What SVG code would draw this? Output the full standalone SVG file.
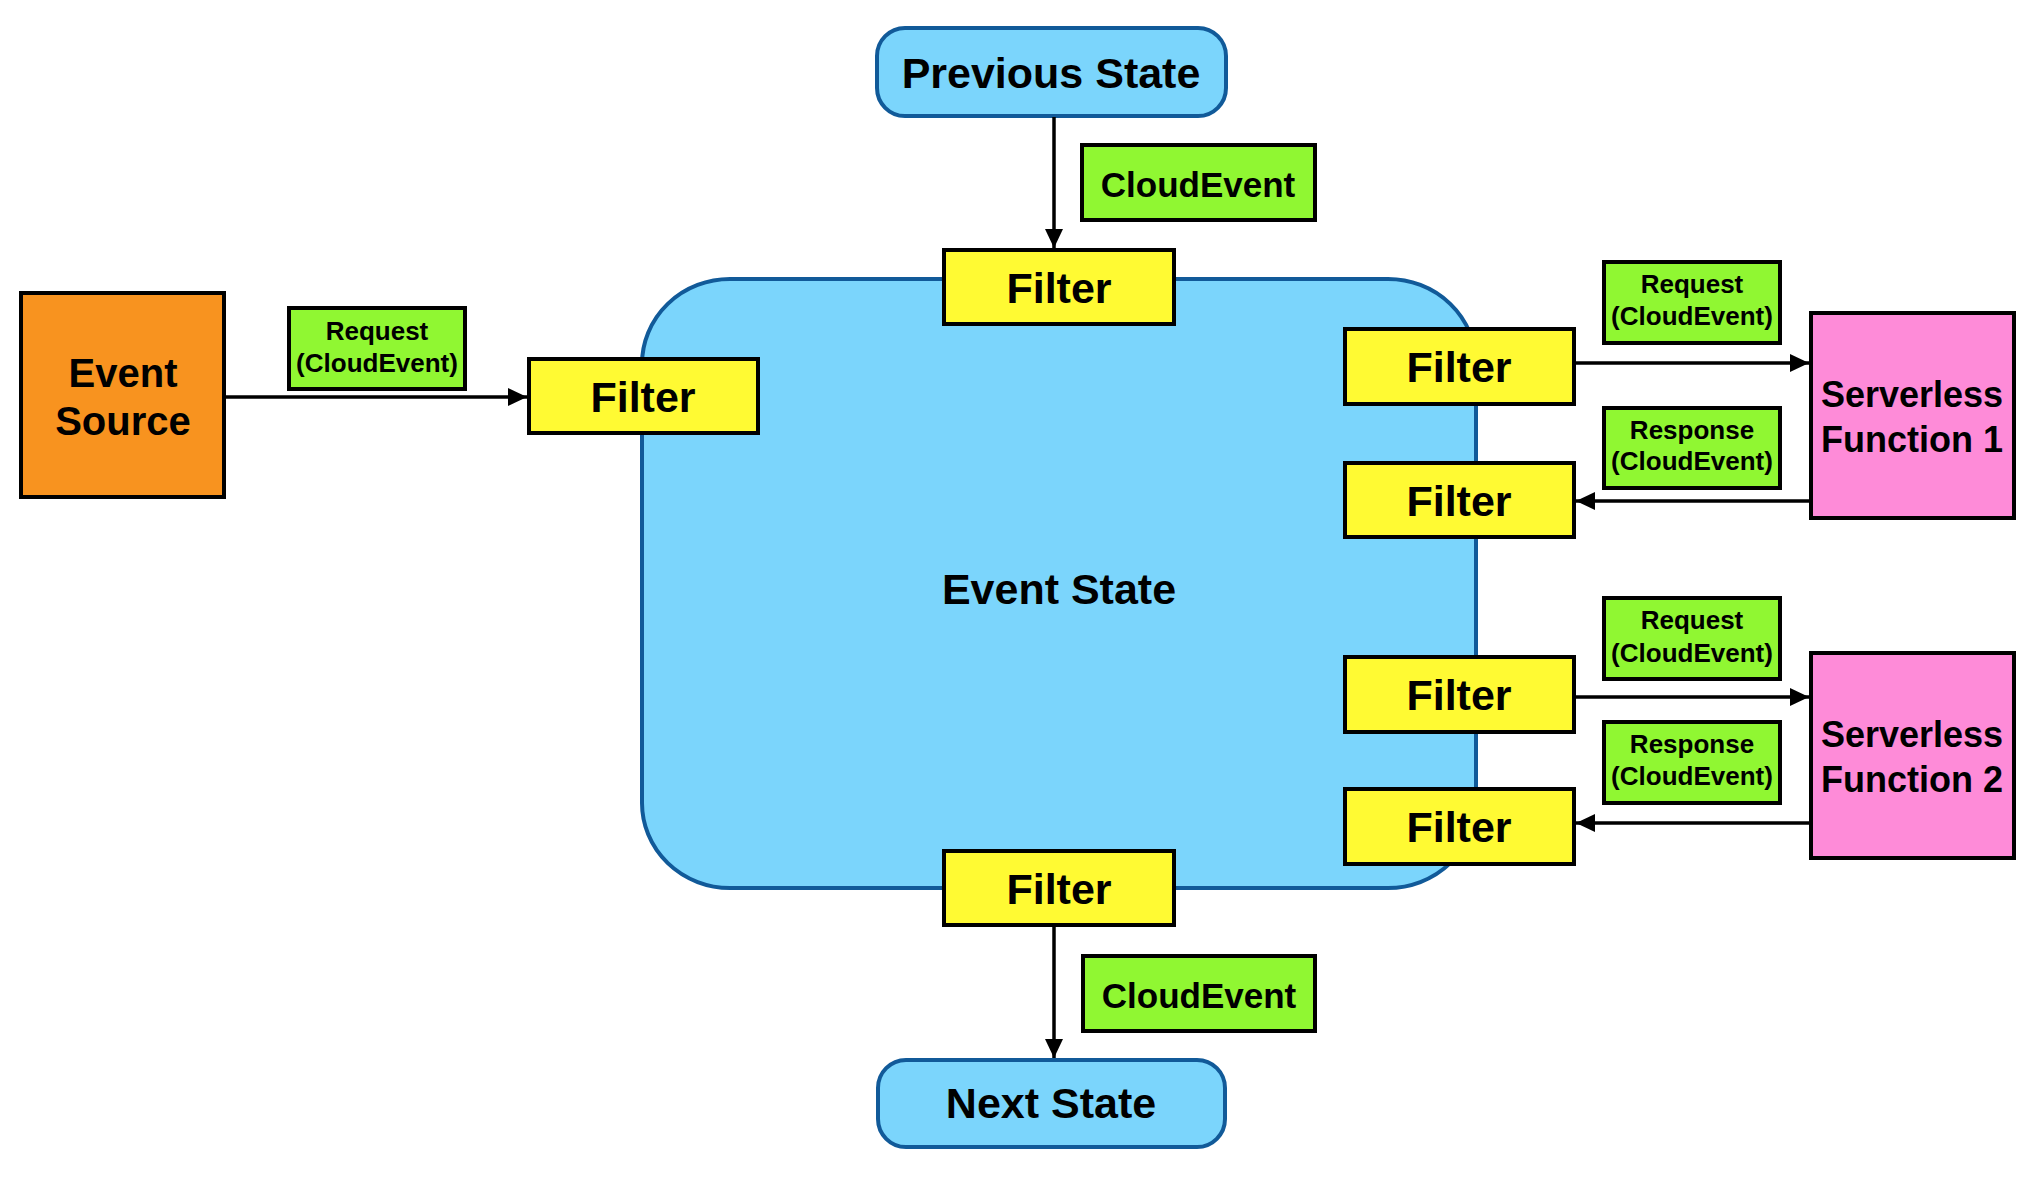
<svg xmlns="http://www.w3.org/2000/svg" width="2034" height="1188" viewBox="0 0 2034 1188">
<style>
text{font-family:"Liberation Sans",Arial,Helvetica,sans-serif;font-weight:bold;fill:#000;text-anchor:middle}
.filter{fill:#FFFA33;stroke:#000;stroke-width:4}
.label{fill:#90F732;stroke:#000;stroke-width:4}
.state{fill:#7BD5FC;stroke:#115A99;stroke-width:4}
.conn{stroke:#000;stroke-width:3.5;fill:none}
.ft{font-size:43px}
.lt{font-size:26px}
.ct{font-size:35px}
</style>
<defs>
<marker id="arr" markerUnits="userSpaceOnUse" markerWidth="20" markerHeight="20" refX="19" refY="9" orient="auto">
<path d="M0,0 L19,9 L0,18 z" fill="#000"/>
</marker>
</defs>
<rect width="2034" height="1188" fill="#fff"/>

<g id="event-state">
<rect class="state" x="642" y="279" width="834" height="609" rx="88" ry="85"/>
<text x="1059" y="604" style="font-size:43px">Event State</text>
</g>

<g id="previous-state">
<rect class="state" x="877" y="28" width="349" height="88" rx="28"/>
<text x="1051" y="88" style="font-size:43px">Previous State</text>
</g>

<g id="next-state">
<rect class="state" x="878" y="1060" width="347" height="87" rx="28"/>
<text x="1051" y="1118" style="font-size:43px">Next State</text>
</g>

<g id="event-source">
<rect x="21" y="293" width="203" height="204" fill="#F8931F" stroke="#000" stroke-width="4"/>
<text x="123" y="387" style="font-size:40px">Event</text>
<text x="123" y="435" style="font-size:40px">Source</text>
</g>

<g id="serverless-function-1">
<rect x="1811" y="313" width="203" height="205" fill="#FE8BD8" stroke="#000" stroke-width="4"/>
<text x="1912" y="407" style="font-size:36px">Serverless</text>
<text x="1912" y="452" style="font-size:36px">Function 1</text>
</g>

<g id="serverless-function-2">
<rect x="1811" y="653" width="203" height="205" fill="#FE8BD8" stroke="#000" stroke-width="4"/>
<text x="1912" y="747" style="font-size:36px">Serverless</text>
<text x="1912" y="792" style="font-size:36px">Function 2</text>
</g>

<g id="filter-in">
<rect class="filter" x="529" y="359" width="229" height="74"/>
<text class="ft" x="643" y="412">Filter</text>
</g>
<g id="filter-top">
<rect class="filter" x="944" y="250" width="230" height="74"/>
<text class="ft" x="1059" y="303">Filter</text>
</g>
<g id="filter-bottom">
<rect class="filter" x="944" y="851" width="230" height="74"/>
<text class="ft" x="1059" y="904">Filter</text>
</g>
<g id="filter-r1">
<rect class="filter" x="1345" y="329" width="229" height="75"/>
<text class="ft" x="1459" y="382">Filter</text>
</g>
<g id="filter-r2">
<rect class="filter" x="1345" y="463" width="229" height="74"/>
<text class="ft" x="1459" y="516">Filter</text>
</g>
<g id="filter-r3">
<rect class="filter" x="1345" y="657" width="229" height="75"/>
<text class="ft" x="1459" y="710">Filter</text>
</g>
<g id="filter-r4">
<rect class="filter" x="1345" y="789" width="229" height="75"/>
<text class="ft" x="1459" y="842">Filter</text>
</g>

<g id="connectors">
<line class="conn" x1="226" y1="397" x2="527" y2="397" marker-end="url(#arr)"/>
<line class="conn" x1="1054" y1="117" x2="1054" y2="248" marker-end="url(#arr)"/>
<line class="conn" x1="1054" y1="927" x2="1054" y2="1058" marker-end="url(#arr)"/>
<line class="conn" x1="1576" y1="363" x2="1809" y2="363" marker-end="url(#arr)"/>
<line class="conn" x1="1809" y1="501" x2="1576" y2="501" marker-end="url(#arr)"/>
<line class="conn" x1="1576" y1="697" x2="1809" y2="697" marker-end="url(#arr)"/>
<line class="conn" x1="1809" y1="823" x2="1576" y2="823" marker-end="url(#arr)"/>
</g>

<g id="label-request-in">
<rect class="label" x="289" y="308" width="176" height="81"/>
<text class="lt" x="377" y="340">Request</text>
<text class="lt" x="377" y="372">(CloudEvent)</text>
</g>
<g id="label-cloudevent-top">
<rect class="label" x="1082" y="145" width="233" height="75"/>
<text class="ct" x="1198" y="197">CloudEvent</text>
</g>
<g id="label-cloudevent-bottom">
<rect class="label" x="1083" y="956" width="232" height="75"/>
<text class="ct" x="1199" y="1008">CloudEvent</text>
</g>
<g id="label-request-1">
<rect class="label" x="1604" y="262" width="176" height="81"/>
<text class="lt" x="1692" y="293">Request</text>
<text class="lt" x="1692" y="325">(CloudEvent)</text>
</g>
<g id="label-response-1">
<rect class="label" x="1604" y="408" width="176" height="80"/>
<text class="lt" x="1692" y="439">Response</text>
<text class="lt" x="1692" y="470">(CloudEvent)</text>
</g>
<g id="label-request-2">
<rect class="label" x="1604" y="598" width="176" height="81"/>
<text class="lt" x="1692" y="629">Request</text>
<text class="lt" x="1692" y="662">(CloudEvent)</text>
</g>
<g id="label-response-2">
<rect class="label" x="1604" y="722" width="176" height="81"/>
<text class="lt" x="1692" y="753">Response</text>
<text class="lt" x="1692" y="785">(CloudEvent)</text>
</g>
</svg>
